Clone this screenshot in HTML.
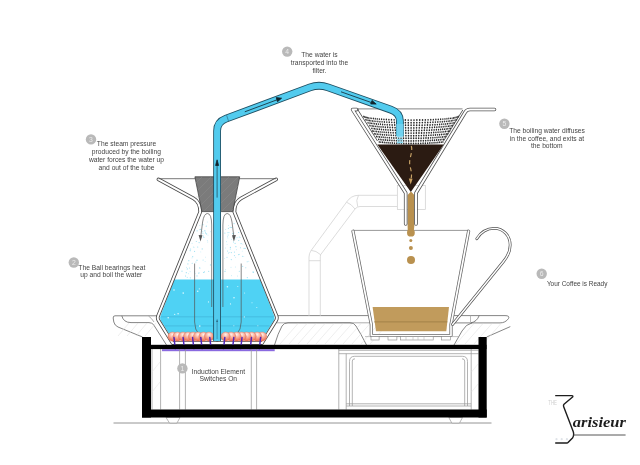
<!DOCTYPE html>
<html><head><meta charset="utf-8">
<style>
html,body{margin:0;padding:0;background:#fff;width:640px;height:465px;overflow:hidden}
svg{display:block;will-change:transform;filter:blur(0.3px)}
.t{font-family:"Liberation Sans",sans-serif;font-size:6.7px;fill:#444}
.n{font-family:"Liberation Sans",sans-serif;font-size:6.8px;fill:#ececec}
</style></head><body>
<svg width="640" height="465" viewBox="0 0 640 465">
<!-- ================= TRAYS ================= -->
<g id="trays" fill="none" stroke="#666" stroke-width="0.8">
  <!-- left tray -->
  <path d="M157 315.8 L115 315.8 Q113 315.8 113.2 318 L113.8 322 Q114.6 325.5 118 327 L142.5 337"/>
  <path d="M121.8 315.8 Q123.5 322.6 131 322.6 L149 322.6 Q152 322.8 153.5 324.6 L166.5 345"/>
  <path d="M148.5 316 Q151.5 318 154 322" stroke="#999"/>
  <!-- middle tray -->
  <line x1="276.5" y1="315.6" x2="370" y2="315.6"/>
  <line x1="276.5" y1="322.8" x2="370" y2="322.8" stroke="#999"/>
  <path d="M274.5 345 Q278 333 282 326 Q284 322.8 288 322.8 L350 322.8 Q354 322.8 356 326 Q361 334 366.5 345"/>
  <!-- column -->
  <!-- right tray -->
  <path d="M452 315.6 L505 315.6 Q510 315.6 508.5 318.5 Q505.5 322.9 500 322.9 L453 322.9"/>
  <path d="M486.7 337 L510.3 326.6"/>
  <path d="M472 322.9 Q466 324 462 331 L454 345"/>
  <path d="M470.5 315.6 L470.5 322.9" stroke="#aaa"/>
  <path d="M479.2 315.6 Q477 321.5 471 322.9"/>
  </g>
<g id="hatch" stroke="#dcdcdc" stroke-width="0.5">
<line x1="118.0" y1="336" x2="129.0" y2="323"/>
<line x1="127.0" y1="336" x2="138.0" y2="323"/>
<line x1="136.0" y1="336" x2="147.0" y2="323"/>
<line x1="145.0" y1="336" x2="156.0" y2="323"/>
<line x1="280" y1="344" x2="298" y2="323.5"/>
<line x1="289" y1="344" x2="307" y2="323.5"/>
<line x1="298" y1="344" x2="316" y2="323.5"/>
<line x1="307" y1="344" x2="325" y2="323.5"/>
<line x1="316" y1="344" x2="334" y2="323.5"/>
<line x1="325" y1="344" x2="343" y2="323.5"/>
<line x1="334" y1="344" x2="352" y2="323.5"/>
<line x1="343" y1="344" x2="361" y2="323.5"/>
<line x1="352" y1="344" x2="370" y2="323.5"/>
<line x1="361" y1="344" x2="379" y2="323.5"/>
<line x1="370" y1="344" x2="388" y2="323.5"/>
<line x1="456" y1="344" x2="474" y2="323.5"/>
<line x1="465" y1="344" x2="483" y2="323.5"/>
<line x1="474" y1="344" x2="492" y2="323.5"/>
<line x1="483" y1="344" x2="501" y2="323.5"/>
</g>
<!-- ================= CUP ================= -->
<g id="cup">
  <!-- coffee -->
  <path d="M372.6 306.9 L449 306.9 L446.3 331.3 L376 331.3 Z" fill="#c19b5c"/>
  <line x1="374" y1="321.9" x2="447.5" y2="321.9" stroke="#8f6f3c" stroke-width="0.6"/>
  <line x1="353" y1="230.4" x2="468.6" y2="230.4" stroke="#999" stroke-width="1"/>
  <g fill="none" stroke-linecap="round" stroke-linejoin="round">
    <path d="M353 231.2 L371.3 324.5 L371.3 335.5 L451 335.5 L451 324.5 L468.6 231.2" stroke="#666" stroke-width="3.2"/>
    <path d="M353 231.2 L371.3 324.5 L371.3 335.5 L451 335.5 L451 324.5 L468.6 231.2" stroke="#fff" stroke-width="1.7"/>
    <path d="M476.8 238.7 C481 232 487 228.4 494.2 228.4 C503.5 228.4 510.2 236 510.2 245 C510.2 251.5 508 256 503.5 261.5 L452.5 324.5" stroke="#555" stroke-width="2.8"/>
    <path d="M476.8 238.7 C481 232 487 228.4 494.2 228.4 C503.5 228.4 510.2 236 510.2 245 C510.2 251.5 508 256 503.5 261.5 L452.5 324.5" stroke="#fff" stroke-width="1.4"/>
  </g>
  <line x1="365" y1="336.6" x2="459" y2="336.6" stroke="#999" stroke-width="0.6"/>
  <g fill="#fff" stroke="#888" stroke-width="0.6">
    <rect x="371" y="336.6" width="8.1" height="3.4"/>
    <rect x="388" y="336.6" width="8.9" height="3.4"/>
    <rect x="400.6" y="336.6" width="32.6" height="3.4"/>
    <rect x="441.4" y="336.6" width="8.9" height="3.4"/>
  </g>
  <g stroke="#aaa" stroke-width="0.5">
    <line x1="406" y1="336.6" x2="406" y2="340"/><line x1="413" y1="336.6" x2="413" y2="340"/>
    <line x1="418" y1="336.6" x2="418" y2="340"/><line x1="424" y1="336.6" x2="424" y2="340"/>
  </g>
</g>
<!-- ================= FILTER ================= -->
<g id="filter">
  <!-- arm (light) -->
  <g fill="none" stroke="#cdcdcd" stroke-width="0.7">
    <path d="M397.3 195.3 L358.5 195.3 Q351 195.3 346.5 202.2 L311.2 250.4 Q309 253.5 309 257 L309 316"/>
    <path d="M397.3 206.5 L360 206.5 Q357 206.5 355 209 L320.6 254.7 Q320.3 256 320.3 258 L320.3 316"/>
    <path d="M358.5 195.3 Q355.5 200 357.7 206.5 M346.5 202.2 Q351.5 204 355 209 M311.2 250.4 Q316 250.5 320.6 254.7 M309 260.7 L320.3 260.7"/>
    <rect x="397.3" y="185.6" width="28" height="24" fill="#fff"/>
  </g>
  <!-- coffee -->
  <path d="M377.3 144.5 L443.8 144.5 L410.8 192 Z" fill="#2b1b12"/>
  <!-- golden stream -->
  <path d="M407.6 195 L411 191.5 L414.3 195 L414.3 226 Q414 230 413.4 233 L408.2 233 Q407.6 230 407.6 226 Z" fill="#b9914f"/>
  <circle cx="410.9" cy="232.7" r="3.9" fill="#b9914f"/>
  <circle cx="410.8" cy="240.5" r="1.5" fill="#b9914f"/>
  <circle cx="410.9" cy="248" r="2" fill="#b9914f"/>
  <circle cx="411" cy="260" r="4" fill="#b9914f"/>
  <!-- dashed arrow -->
  <path d="M411.3 146 C413.2 152 408.6 159 409.8 165 C410.8 170 412.6 174 410.7 180" fill="none" stroke="#c9a468" stroke-width="1.15" stroke-dasharray="4 3.2"/>
  <path d="M408.8 178.5 L410.7 184.5 L412.6 178.7 Z" fill="#c9a060"/>
  <!-- mesh -->
  <g fill="#2a2a2a"><ellipse cx="363.59" cy="116.35" rx="0.31" ry="0.95"/>
<ellipse cx="363.80" cy="116.58" rx="0.34" ry="0.95"/>
<ellipse cx="364.18" cy="116.82" rx="0.37" ry="0.95"/>
<ellipse cx="364.75" cy="117.05" rx="0.40" ry="0.95"/>
<ellipse cx="365.54" cy="119.65" rx="0.40" ry="0.95"/>
<ellipse cx="365.49" cy="117.28" rx="0.43" ry="0.95"/>
<ellipse cx="366.27" cy="119.88" rx="0.43" ry="0.95"/>
<ellipse cx="366.41" cy="117.51" rx="0.46" ry="0.95"/>
<ellipse cx="367.17" cy="120.11" rx="0.46" ry="0.95"/>
<ellipse cx="367.93" cy="122.71" rx="0.46" ry="0.95"/>
<ellipse cx="367.49" cy="117.73" rx="0.49" ry="0.95"/>
<ellipse cx="368.24" cy="120.33" rx="0.49" ry="0.95"/>
<ellipse cx="368.98" cy="122.93" rx="0.49" ry="0.95"/>
<ellipse cx="369.73" cy="125.53" rx="0.49" ry="0.95"/>
<ellipse cx="368.74" cy="117.95" rx="0.52" ry="0.95"/>
<ellipse cx="369.47" cy="120.55" rx="0.52" ry="0.95"/>
<ellipse cx="370.19" cy="123.15" rx="0.52" ry="0.95"/>
<ellipse cx="370.92" cy="125.75" rx="0.52" ry="0.95"/>
<ellipse cx="371.64" cy="128.35" rx="0.52" ry="0.95"/>
<ellipse cx="372.37" cy="130.95" rx="0.52" ry="0.95"/>
<ellipse cx="370.15" cy="118.16" rx="0.54" ry="0.95"/>
<ellipse cx="370.86" cy="120.76" rx="0.54" ry="0.95"/>
<ellipse cx="371.56" cy="123.36" rx="0.54" ry="0.95"/>
<ellipse cx="372.26" cy="125.96" rx="0.54" ry="0.95"/>
<ellipse cx="372.96" cy="128.56" rx="0.54" ry="0.95"/>
<ellipse cx="373.66" cy="131.16" rx="0.54" ry="0.95"/>
<ellipse cx="374.36" cy="133.76" rx="0.54" ry="0.95"/>
<ellipse cx="371.72" cy="118.36" rx="0.57" ry="0.95"/>
<ellipse cx="372.39" cy="120.96" rx="0.57" ry="0.95"/>
<ellipse cx="373.07" cy="123.56" rx="0.57" ry="0.95"/>
<ellipse cx="373.74" cy="126.16" rx="0.57" ry="0.95"/>
<ellipse cx="374.42" cy="128.76" rx="0.57" ry="0.95"/>
<ellipse cx="375.10" cy="131.36" rx="0.57" ry="0.95"/>
<ellipse cx="375.77" cy="133.96" rx="0.57" ry="0.95"/>
<ellipse cx="376.45" cy="136.56" rx="0.57" ry="0.95"/>
<ellipse cx="373.43" cy="118.56" rx="0.60" ry="0.95"/>
<ellipse cx="374.07" cy="121.16" rx="0.60" ry="0.95"/>
<ellipse cx="374.72" cy="123.76" rx="0.60" ry="0.95"/>
<ellipse cx="375.37" cy="126.36" rx="0.60" ry="0.95"/>
<ellipse cx="376.02" cy="128.96" rx="0.60" ry="0.95"/>
<ellipse cx="376.66" cy="131.56" rx="0.60" ry="0.95"/>
<ellipse cx="377.31" cy="134.16" rx="0.60" ry="0.95"/>
<ellipse cx="377.96" cy="136.76" rx="0.60" ry="0.95"/>
<ellipse cx="378.60" cy="139.36" rx="0.60" ry="0.95"/>
<ellipse cx="379.25" cy="141.96" rx="0.60" ry="0.95"/>
<ellipse cx="375.28" cy="118.74" rx="0.62" ry="0.95"/>
<ellipse cx="375.89" cy="121.34" rx="0.62" ry="0.95"/>
<ellipse cx="376.51" cy="123.94" rx="0.62" ry="0.95"/>
<ellipse cx="377.12" cy="126.54" rx="0.62" ry="0.95"/>
<ellipse cx="377.74" cy="129.14" rx="0.62" ry="0.95"/>
<ellipse cx="378.36" cy="131.74" rx="0.62" ry="0.95"/>
<ellipse cx="378.97" cy="134.34" rx="0.62" ry="0.95"/>
<ellipse cx="379.59" cy="136.94" rx="0.62" ry="0.95"/>
<ellipse cx="380.20" cy="139.54" rx="0.62" ry="0.95"/>
<ellipse cx="380.82" cy="142.14" rx="0.62" ry="0.95"/>
<ellipse cx="377.26" cy="118.92" rx="0.64" ry="0.95"/>
<ellipse cx="377.84" cy="121.52" rx="0.64" ry="0.95"/>
<ellipse cx="378.42" cy="124.12" rx="0.64" ry="0.95"/>
<ellipse cx="379.01" cy="126.72" rx="0.64" ry="0.95"/>
<ellipse cx="379.59" cy="129.32" rx="0.64" ry="0.95"/>
<ellipse cx="380.17" cy="131.92" rx="0.64" ry="0.95"/>
<ellipse cx="380.75" cy="134.52" rx="0.64" ry="0.95"/>
<ellipse cx="381.34" cy="137.12" rx="0.64" ry="0.95"/>
<ellipse cx="381.92" cy="139.72" rx="0.64" ry="0.95"/>
<ellipse cx="382.50" cy="142.32" rx="0.64" ry="0.95"/>
<ellipse cx="379.37" cy="119.09" rx="0.67" ry="0.95"/>
<ellipse cx="379.91" cy="121.69" rx="0.67" ry="0.95"/>
<ellipse cx="380.46" cy="124.29" rx="0.67" ry="0.95"/>
<ellipse cx="381.00" cy="126.89" rx="0.67" ry="0.95"/>
<ellipse cx="381.55" cy="129.49" rx="0.67" ry="0.95"/>
<ellipse cx="382.10" cy="132.09" rx="0.67" ry="0.95"/>
<ellipse cx="382.64" cy="134.69" rx="0.67" ry="0.95"/>
<ellipse cx="383.19" cy="137.29" rx="0.67" ry="0.95"/>
<ellipse cx="383.74" cy="139.89" rx="0.67" ry="0.95"/>
<ellipse cx="384.28" cy="142.49" rx="0.67" ry="0.95"/>
<ellipse cx="381.59" cy="119.24" rx="0.69" ry="0.95"/>
<ellipse cx="382.10" cy="121.84" rx="0.69" ry="0.95"/>
<ellipse cx="382.61" cy="124.44" rx="0.69" ry="0.95"/>
<ellipse cx="383.11" cy="127.04" rx="0.69" ry="0.95"/>
<ellipse cx="383.62" cy="129.64" rx="0.69" ry="0.95"/>
<ellipse cx="384.13" cy="132.24" rx="0.69" ry="0.95"/>
<ellipse cx="384.64" cy="134.84" rx="0.69" ry="0.95"/>
<ellipse cx="385.15" cy="137.44" rx="0.69" ry="0.95"/>
<ellipse cx="385.66" cy="140.04" rx="0.69" ry="0.95"/>
<ellipse cx="386.17" cy="142.64" rx="0.69" ry="0.95"/>
<ellipse cx="383.92" cy="119.39" rx="0.71" ry="0.95"/>
<ellipse cx="384.39" cy="121.99" rx="0.71" ry="0.95"/>
<ellipse cx="384.86" cy="124.59" rx="0.71" ry="0.95"/>
<ellipse cx="385.33" cy="127.19" rx="0.71" ry="0.95"/>
<ellipse cx="385.79" cy="129.79" rx="0.71" ry="0.95"/>
<ellipse cx="386.26" cy="132.39" rx="0.71" ry="0.95"/>
<ellipse cx="386.73" cy="134.99" rx="0.71" ry="0.95"/>
<ellipse cx="387.20" cy="137.59" rx="0.71" ry="0.95"/>
<ellipse cx="387.67" cy="140.19" rx="0.71" ry="0.95"/>
<ellipse cx="388.14" cy="142.79" rx="0.71" ry="0.95"/>
<ellipse cx="386.35" cy="119.52" rx="0.72" ry="0.95"/>
<ellipse cx="386.78" cy="122.12" rx="0.72" ry="0.95"/>
<ellipse cx="387.20" cy="124.72" rx="0.72" ry="0.95"/>
<ellipse cx="387.63" cy="127.32" rx="0.72" ry="0.95"/>
<ellipse cx="388.06" cy="129.92" rx="0.72" ry="0.95"/>
<ellipse cx="388.48" cy="132.52" rx="0.72" ry="0.95"/>
<ellipse cx="388.91" cy="135.12" rx="0.72" ry="0.95"/>
<ellipse cx="389.34" cy="137.72" rx="0.72" ry="0.95"/>
<ellipse cx="389.76" cy="140.32" rx="0.72" ry="0.95"/>
<ellipse cx="390.19" cy="142.92" rx="0.72" ry="0.95"/>
<ellipse cx="388.87" cy="119.64" rx="0.74" ry="0.95"/>
<ellipse cx="389.25" cy="122.24" rx="0.74" ry="0.95"/>
<ellipse cx="389.64" cy="124.84" rx="0.74" ry="0.95"/>
<ellipse cx="390.02" cy="127.44" rx="0.74" ry="0.95"/>
<ellipse cx="390.40" cy="130.04" rx="0.74" ry="0.95"/>
<ellipse cx="390.79" cy="132.64" rx="0.74" ry="0.95"/>
<ellipse cx="391.17" cy="135.24" rx="0.74" ry="0.95"/>
<ellipse cx="391.55" cy="137.84" rx="0.74" ry="0.95"/>
<ellipse cx="391.94" cy="140.44" rx="0.74" ry="0.95"/>
<ellipse cx="392.32" cy="143.04" rx="0.74" ry="0.95"/>
<ellipse cx="391.47" cy="119.74" rx="0.75" ry="0.95"/>
<ellipse cx="391.81" cy="122.34" rx="0.75" ry="0.95"/>
<ellipse cx="392.15" cy="124.94" rx="0.75" ry="0.95"/>
<ellipse cx="392.49" cy="127.54" rx="0.75" ry="0.95"/>
<ellipse cx="392.82" cy="130.14" rx="0.75" ry="0.95"/>
<ellipse cx="393.16" cy="132.74" rx="0.75" ry="0.95"/>
<ellipse cx="393.50" cy="135.34" rx="0.75" ry="0.95"/>
<ellipse cx="393.84" cy="137.94" rx="0.75" ry="0.95"/>
<ellipse cx="394.18" cy="140.54" rx="0.75" ry="0.95"/>
<ellipse cx="394.51" cy="143.14" rx="0.75" ry="0.95"/>
<ellipse cx="394.14" cy="119.84" rx="0.77" ry="0.95"/>
<ellipse cx="394.44" cy="122.44" rx="0.77" ry="0.95"/>
<ellipse cx="394.73" cy="125.04" rx="0.77" ry="0.95"/>
<ellipse cx="395.02" cy="127.64" rx="0.77" ry="0.95"/>
<ellipse cx="395.31" cy="130.24" rx="0.77" ry="0.95"/>
<ellipse cx="395.60" cy="132.84" rx="0.77" ry="0.95"/>
<ellipse cx="395.89" cy="135.44" rx="0.77" ry="0.95"/>
<ellipse cx="396.19" cy="138.04" rx="0.77" ry="0.95"/>
<ellipse cx="396.48" cy="140.64" rx="0.77" ry="0.95"/>
<ellipse cx="396.77" cy="143.24" rx="0.77" ry="0.95"/>
<ellipse cx="396.88" cy="119.92" rx="0.78" ry="0.95"/>
<ellipse cx="397.12" cy="122.52" rx="0.78" ry="0.95"/>
<ellipse cx="397.37" cy="125.12" rx="0.78" ry="0.95"/>
<ellipse cx="397.61" cy="127.72" rx="0.78" ry="0.95"/>
<ellipse cx="397.85" cy="130.32" rx="0.78" ry="0.95"/>
<ellipse cx="398.10" cy="132.92" rx="0.78" ry="0.95"/>
<ellipse cx="398.34" cy="135.52" rx="0.78" ry="0.95"/>
<ellipse cx="398.59" cy="138.12" rx="0.78" ry="0.95"/>
<ellipse cx="398.83" cy="140.72" rx="0.78" ry="0.95"/>
<ellipse cx="399.08" cy="143.32" rx="0.78" ry="0.95"/>
<ellipse cx="399.66" cy="119.98" rx="0.78" ry="0.95"/>
<ellipse cx="399.86" cy="122.58" rx="0.78" ry="0.95"/>
<ellipse cx="400.05" cy="125.18" rx="0.78" ry="0.95"/>
<ellipse cx="400.25" cy="127.78" rx="0.78" ry="0.95"/>
<ellipse cx="400.44" cy="130.38" rx="0.78" ry="0.95"/>
<ellipse cx="400.64" cy="132.98" rx="0.78" ry="0.95"/>
<ellipse cx="400.84" cy="135.58" rx="0.78" ry="0.95"/>
<ellipse cx="401.03" cy="138.18" rx="0.78" ry="0.95"/>
<ellipse cx="401.23" cy="140.78" rx="0.78" ry="0.95"/>
<ellipse cx="401.42" cy="143.38" rx="0.78" ry="0.95"/>
<ellipse cx="402.49" cy="120.03" rx="0.79" ry="0.95"/>
<ellipse cx="402.63" cy="122.63" rx="0.79" ry="0.95"/>
<ellipse cx="402.78" cy="125.23" rx="0.79" ry="0.95"/>
<ellipse cx="402.93" cy="127.83" rx="0.79" ry="0.95"/>
<ellipse cx="403.07" cy="130.43" rx="0.79" ry="0.95"/>
<ellipse cx="403.22" cy="133.03" rx="0.79" ry="0.95"/>
<ellipse cx="403.37" cy="135.63" rx="0.79" ry="0.95"/>
<ellipse cx="403.51" cy="138.23" rx="0.79" ry="0.95"/>
<ellipse cx="403.66" cy="140.83" rx="0.79" ry="0.95"/>
<ellipse cx="403.81" cy="143.43" rx="0.79" ry="0.95"/>
<ellipse cx="405.34" cy="120.07" rx="0.80" ry="0.95"/>
<ellipse cx="405.44" cy="122.67" rx="0.80" ry="0.95"/>
<ellipse cx="405.54" cy="125.27" rx="0.80" ry="0.95"/>
<ellipse cx="405.63" cy="127.87" rx="0.80" ry="0.95"/>
<ellipse cx="405.73" cy="130.47" rx="0.80" ry="0.95"/>
<ellipse cx="405.83" cy="133.07" rx="0.80" ry="0.95"/>
<ellipse cx="405.92" cy="135.67" rx="0.80" ry="0.95"/>
<ellipse cx="406.02" cy="138.27" rx="0.80" ry="0.95"/>
<ellipse cx="406.12" cy="140.87" rx="0.80" ry="0.95"/>
<ellipse cx="406.21" cy="143.47" rx="0.80" ry="0.95"/>
<ellipse cx="408.22" cy="120.09" rx="0.80" ry="0.95"/>
<ellipse cx="408.27" cy="122.69" rx="0.80" ry="0.95"/>
<ellipse cx="408.31" cy="125.29" rx="0.80" ry="0.95"/>
<ellipse cx="408.36" cy="127.89" rx="0.80" ry="0.95"/>
<ellipse cx="408.41" cy="130.49" rx="0.80" ry="0.95"/>
<ellipse cx="408.45" cy="133.09" rx="0.80" ry="0.95"/>
<ellipse cx="408.50" cy="135.69" rx="0.80" ry="0.95"/>
<ellipse cx="408.55" cy="138.29" rx="0.80" ry="0.95"/>
<ellipse cx="408.59" cy="140.89" rx="0.80" ry="0.95"/>
<ellipse cx="408.64" cy="143.49" rx="0.80" ry="0.95"/>
<ellipse cx="411.11" cy="120.10" rx="0.80" ry="0.95"/>
<ellipse cx="411.11" cy="122.70" rx="0.80" ry="0.95"/>
<ellipse cx="411.10" cy="125.30" rx="0.80" ry="0.95"/>
<ellipse cx="411.10" cy="127.90" rx="0.80" ry="0.95"/>
<ellipse cx="411.09" cy="130.50" rx="0.80" ry="0.95"/>
<ellipse cx="411.09" cy="133.10" rx="0.80" ry="0.95"/>
<ellipse cx="411.09" cy="135.70" rx="0.80" ry="0.95"/>
<ellipse cx="411.08" cy="138.30" rx="0.80" ry="0.95"/>
<ellipse cx="411.08" cy="140.90" rx="0.80" ry="0.95"/>
<ellipse cx="411.07" cy="143.50" rx="0.80" ry="0.95"/>
<ellipse cx="414.00" cy="120.09" rx="0.80" ry="0.95"/>
<ellipse cx="413.94" cy="122.69" rx="0.80" ry="0.95"/>
<ellipse cx="413.89" cy="125.29" rx="0.80" ry="0.95"/>
<ellipse cx="413.83" cy="127.89" rx="0.80" ry="0.95"/>
<ellipse cx="413.78" cy="130.49" rx="0.80" ry="0.95"/>
<ellipse cx="413.73" cy="133.09" rx="0.80" ry="0.95"/>
<ellipse cx="413.67" cy="135.69" rx="0.80" ry="0.95"/>
<ellipse cx="413.62" cy="138.29" rx="0.80" ry="0.95"/>
<ellipse cx="413.56" cy="140.89" rx="0.80" ry="0.95"/>
<ellipse cx="413.51" cy="143.49" rx="0.80" ry="0.95"/>
<ellipse cx="416.87" cy="120.07" rx="0.80" ry="0.95"/>
<ellipse cx="416.77" cy="122.67" rx="0.80" ry="0.95"/>
<ellipse cx="416.67" cy="125.27" rx="0.80" ry="0.95"/>
<ellipse cx="416.56" cy="127.87" rx="0.80" ry="0.95"/>
<ellipse cx="416.46" cy="130.47" rx="0.80" ry="0.95"/>
<ellipse cx="416.35" cy="133.07" rx="0.80" ry="0.95"/>
<ellipse cx="416.25" cy="135.67" rx="0.80" ry="0.95"/>
<ellipse cx="416.14" cy="138.27" rx="0.80" ry="0.95"/>
<ellipse cx="416.04" cy="140.87" rx="0.80" ry="0.95"/>
<ellipse cx="415.93" cy="143.47" rx="0.80" ry="0.95"/>
<ellipse cx="419.73" cy="120.03" rx="0.79" ry="0.95"/>
<ellipse cx="419.58" cy="122.63" rx="0.79" ry="0.95"/>
<ellipse cx="419.42" cy="125.23" rx="0.79" ry="0.95"/>
<ellipse cx="419.27" cy="127.83" rx="0.79" ry="0.95"/>
<ellipse cx="419.11" cy="130.43" rx="0.79" ry="0.95"/>
<ellipse cx="418.96" cy="133.03" rx="0.79" ry="0.95"/>
<ellipse cx="418.80" cy="135.63" rx="0.79" ry="0.95"/>
<ellipse cx="418.65" cy="138.23" rx="0.79" ry="0.95"/>
<ellipse cx="418.50" cy="140.83" rx="0.79" ry="0.95"/>
<ellipse cx="418.34" cy="143.43" rx="0.79" ry="0.95"/>
<ellipse cx="422.56" cy="119.98" rx="0.78" ry="0.95"/>
<ellipse cx="422.35" cy="122.58" rx="0.78" ry="0.95"/>
<ellipse cx="422.15" cy="125.18" rx="0.78" ry="0.95"/>
<ellipse cx="421.95" cy="127.78" rx="0.78" ry="0.95"/>
<ellipse cx="421.74" cy="130.38" rx="0.78" ry="0.95"/>
<ellipse cx="421.54" cy="132.98" rx="0.78" ry="0.95"/>
<ellipse cx="421.34" cy="135.58" rx="0.78" ry="0.95"/>
<ellipse cx="421.13" cy="138.18" rx="0.78" ry="0.95"/>
<ellipse cx="420.93" cy="140.78" rx="0.78" ry="0.95"/>
<ellipse cx="420.72" cy="143.38" rx="0.78" ry="0.95"/>
<ellipse cx="425.34" cy="119.92" rx="0.78" ry="0.95"/>
<ellipse cx="425.09" cy="122.52" rx="0.78" ry="0.95"/>
<ellipse cx="424.84" cy="125.12" rx="0.78" ry="0.95"/>
<ellipse cx="424.59" cy="127.72" rx="0.78" ry="0.95"/>
<ellipse cx="424.33" cy="130.32" rx="0.78" ry="0.95"/>
<ellipse cx="424.08" cy="132.92" rx="0.78" ry="0.95"/>
<ellipse cx="423.83" cy="135.52" rx="0.78" ry="0.95"/>
<ellipse cx="423.58" cy="138.12" rx="0.78" ry="0.95"/>
<ellipse cx="423.33" cy="140.72" rx="0.78" ry="0.95"/>
<ellipse cx="423.07" cy="143.32" rx="0.78" ry="0.95"/>
<ellipse cx="428.08" cy="119.84" rx="0.77" ry="0.95"/>
<ellipse cx="427.78" cy="122.44" rx="0.77" ry="0.95"/>
<ellipse cx="427.48" cy="125.04" rx="0.77" ry="0.95"/>
<ellipse cx="427.18" cy="127.64" rx="0.77" ry="0.95"/>
<ellipse cx="426.88" cy="130.24" rx="0.77" ry="0.95"/>
<ellipse cx="426.58" cy="132.84" rx="0.77" ry="0.95"/>
<ellipse cx="426.28" cy="135.44" rx="0.77" ry="0.95"/>
<ellipse cx="425.98" cy="138.04" rx="0.77" ry="0.95"/>
<ellipse cx="425.68" cy="140.64" rx="0.77" ry="0.95"/>
<ellipse cx="425.38" cy="143.24" rx="0.77" ry="0.95"/>
<ellipse cx="430.75" cy="119.74" rx="0.75" ry="0.95"/>
<ellipse cx="430.40" cy="122.34" rx="0.75" ry="0.95"/>
<ellipse cx="430.06" cy="124.94" rx="0.75" ry="0.95"/>
<ellipse cx="429.71" cy="127.54" rx="0.75" ry="0.95"/>
<ellipse cx="429.36" cy="130.14" rx="0.75" ry="0.95"/>
<ellipse cx="429.02" cy="132.74" rx="0.75" ry="0.95"/>
<ellipse cx="428.67" cy="135.34" rx="0.75" ry="0.95"/>
<ellipse cx="428.33" cy="137.94" rx="0.75" ry="0.95"/>
<ellipse cx="427.98" cy="140.54" rx="0.75" ry="0.95"/>
<ellipse cx="427.63" cy="143.14" rx="0.75" ry="0.95"/>
<ellipse cx="433.35" cy="119.64" rx="0.74" ry="0.95"/>
<ellipse cx="432.96" cy="122.24" rx="0.74" ry="0.95"/>
<ellipse cx="432.57" cy="124.84" rx="0.74" ry="0.95"/>
<ellipse cx="432.18" cy="127.44" rx="0.74" ry="0.95"/>
<ellipse cx="431.78" cy="130.04" rx="0.74" ry="0.95"/>
<ellipse cx="431.39" cy="132.64" rx="0.74" ry="0.95"/>
<ellipse cx="431.00" cy="135.24" rx="0.74" ry="0.95"/>
<ellipse cx="430.61" cy="137.84" rx="0.74" ry="0.95"/>
<ellipse cx="430.22" cy="140.44" rx="0.74" ry="0.95"/>
<ellipse cx="429.83" cy="143.04" rx="0.74" ry="0.95"/>
<ellipse cx="435.87" cy="119.52" rx="0.72" ry="0.95"/>
<ellipse cx="435.43" cy="122.12" rx="0.72" ry="0.95"/>
<ellipse cx="435.00" cy="124.72" rx="0.72" ry="0.95"/>
<ellipse cx="434.57" cy="127.32" rx="0.72" ry="0.95"/>
<ellipse cx="434.13" cy="129.92" rx="0.72" ry="0.95"/>
<ellipse cx="433.70" cy="132.52" rx="0.72" ry="0.95"/>
<ellipse cx="433.26" cy="135.12" rx="0.72" ry="0.95"/>
<ellipse cx="432.83" cy="137.72" rx="0.72" ry="0.95"/>
<ellipse cx="432.39" cy="140.32" rx="0.72" ry="0.95"/>
<ellipse cx="431.96" cy="142.92" rx="0.72" ry="0.95"/>
<ellipse cx="438.30" cy="119.39" rx="0.71" ry="0.95"/>
<ellipse cx="437.82" cy="121.99" rx="0.71" ry="0.95"/>
<ellipse cx="437.35" cy="124.59" rx="0.71" ry="0.95"/>
<ellipse cx="436.87" cy="127.19" rx="0.71" ry="0.95"/>
<ellipse cx="436.39" cy="129.79" rx="0.71" ry="0.95"/>
<ellipse cx="435.92" cy="132.39" rx="0.71" ry="0.95"/>
<ellipse cx="435.44" cy="134.99" rx="0.71" ry="0.95"/>
<ellipse cx="434.97" cy="137.59" rx="0.71" ry="0.95"/>
<ellipse cx="434.49" cy="140.19" rx="0.71" ry="0.95"/>
<ellipse cx="434.01" cy="142.79" rx="0.71" ry="0.95"/>
<ellipse cx="440.63" cy="119.24" rx="0.69" ry="0.95"/>
<ellipse cx="440.12" cy="121.84" rx="0.69" ry="0.95"/>
<ellipse cx="439.60" cy="124.44" rx="0.69" ry="0.95"/>
<ellipse cx="439.08" cy="127.04" rx="0.69" ry="0.95"/>
<ellipse cx="438.57" cy="129.64" rx="0.69" ry="0.95"/>
<ellipse cx="438.05" cy="132.24" rx="0.69" ry="0.95"/>
<ellipse cx="437.53" cy="134.84" rx="0.69" ry="0.95"/>
<ellipse cx="437.02" cy="137.44" rx="0.69" ry="0.95"/>
<ellipse cx="436.50" cy="140.04" rx="0.69" ry="0.95"/>
<ellipse cx="435.98" cy="142.64" rx="0.69" ry="0.95"/>
<ellipse cx="442.86" cy="119.09" rx="0.67" ry="0.95"/>
<ellipse cx="442.30" cy="121.69" rx="0.67" ry="0.95"/>
<ellipse cx="441.75" cy="124.29" rx="0.67" ry="0.95"/>
<ellipse cx="441.19" cy="126.89" rx="0.67" ry="0.95"/>
<ellipse cx="440.64" cy="129.49" rx="0.67" ry="0.95"/>
<ellipse cx="440.08" cy="132.09" rx="0.67" ry="0.95"/>
<ellipse cx="439.53" cy="134.69" rx="0.67" ry="0.95"/>
<ellipse cx="438.98" cy="137.29" rx="0.67" ry="0.95"/>
<ellipse cx="438.42" cy="139.89" rx="0.67" ry="0.95"/>
<ellipse cx="437.87" cy="142.49" rx="0.67" ry="0.95"/>
<ellipse cx="444.96" cy="118.92" rx="0.64" ry="0.95"/>
<ellipse cx="444.37" cy="121.52" rx="0.64" ry="0.95"/>
<ellipse cx="443.78" cy="124.12" rx="0.64" ry="0.95"/>
<ellipse cx="443.19" cy="126.72" rx="0.64" ry="0.95"/>
<ellipse cx="442.60" cy="129.32" rx="0.64" ry="0.95"/>
<ellipse cx="442.01" cy="131.92" rx="0.64" ry="0.95"/>
<ellipse cx="441.42" cy="134.52" rx="0.64" ry="0.95"/>
<ellipse cx="440.83" cy="137.12" rx="0.64" ry="0.95"/>
<ellipse cx="440.24" cy="139.72" rx="0.64" ry="0.95"/>
<ellipse cx="439.65" cy="142.32" rx="0.64" ry="0.95"/>
<ellipse cx="446.95" cy="118.74" rx="0.62" ry="0.95"/>
<ellipse cx="446.32" cy="121.34" rx="0.62" ry="0.95"/>
<ellipse cx="445.70" cy="123.94" rx="0.62" ry="0.95"/>
<ellipse cx="445.07" cy="126.54" rx="0.62" ry="0.95"/>
<ellipse cx="444.45" cy="129.14" rx="0.62" ry="0.95"/>
<ellipse cx="443.83" cy="131.74" rx="0.62" ry="0.95"/>
<ellipse cx="443.20" cy="134.34" rx="0.62" ry="0.95"/>
<ellipse cx="442.58" cy="136.94" rx="0.62" ry="0.95"/>
<ellipse cx="441.96" cy="139.54" rx="0.62" ry="0.95"/>
<ellipse cx="441.33" cy="142.14" rx="0.62" ry="0.95"/>
<ellipse cx="448.80" cy="118.56" rx="0.60" ry="0.95"/>
<ellipse cx="448.14" cy="121.16" rx="0.60" ry="0.95"/>
<ellipse cx="447.49" cy="123.76" rx="0.60" ry="0.95"/>
<ellipse cx="446.83" cy="126.36" rx="0.60" ry="0.95"/>
<ellipse cx="446.18" cy="128.96" rx="0.60" ry="0.95"/>
<ellipse cx="445.52" cy="131.56" rx="0.60" ry="0.95"/>
<ellipse cx="444.87" cy="134.16" rx="0.60" ry="0.95"/>
<ellipse cx="444.21" cy="136.76" rx="0.60" ry="0.95"/>
<ellipse cx="443.56" cy="139.36" rx="0.60" ry="0.95"/>
<ellipse cx="442.90" cy="141.96" rx="0.60" ry="0.95"/>
<ellipse cx="450.51" cy="118.36" rx="0.57" ry="0.95"/>
<ellipse cx="449.82" cy="120.96" rx="0.57" ry="0.95"/>
<ellipse cx="449.14" cy="123.56" rx="0.57" ry="0.95"/>
<ellipse cx="448.46" cy="126.16" rx="0.57" ry="0.95"/>
<ellipse cx="447.77" cy="128.76" rx="0.57" ry="0.95"/>
<ellipse cx="447.09" cy="131.36" rx="0.57" ry="0.95"/>
<ellipse cx="446.40" cy="133.96" rx="0.57" ry="0.95"/>
<ellipse cx="445.72" cy="136.56" rx="0.57" ry="0.95"/>
<ellipse cx="452.07" cy="118.16" rx="0.54" ry="0.95"/>
<ellipse cx="451.36" cy="120.76" rx="0.54" ry="0.95"/>
<ellipse cx="450.65" cy="123.36" rx="0.54" ry="0.95"/>
<ellipse cx="449.94" cy="125.96" rx="0.54" ry="0.95"/>
<ellipse cx="449.23" cy="128.56" rx="0.54" ry="0.95"/>
<ellipse cx="448.52" cy="131.16" rx="0.54" ry="0.95"/>
<ellipse cx="447.81" cy="133.76" rx="0.54" ry="0.95"/>
<ellipse cx="453.48" cy="117.95" rx="0.52" ry="0.95"/>
<ellipse cx="452.75" cy="120.55" rx="0.52" ry="0.95"/>
<ellipse cx="452.02" cy="123.15" rx="0.52" ry="0.95"/>
<ellipse cx="451.28" cy="125.75" rx="0.52" ry="0.95"/>
<ellipse cx="450.55" cy="128.35" rx="0.52" ry="0.95"/>
<ellipse cx="449.82" cy="130.95" rx="0.52" ry="0.95"/>
<ellipse cx="454.73" cy="117.73" rx="0.49" ry="0.95"/>
<ellipse cx="453.98" cy="120.33" rx="0.49" ry="0.95"/>
<ellipse cx="453.23" cy="122.93" rx="0.49" ry="0.95"/>
<ellipse cx="452.47" cy="125.53" rx="0.49" ry="0.95"/>
<ellipse cx="455.82" cy="117.51" rx="0.46" ry="0.95"/>
<ellipse cx="455.05" cy="120.11" rx="0.46" ry="0.95"/>
<ellipse cx="454.28" cy="122.71" rx="0.46" ry="0.95"/>
<ellipse cx="456.74" cy="117.28" rx="0.43" ry="0.95"/>
<ellipse cx="455.95" cy="119.88" rx="0.43" ry="0.95"/>
<ellipse cx="457.48" cy="117.05" rx="0.40" ry="0.95"/>
<ellipse cx="456.68" cy="119.65" rx="0.40" ry="0.95"/>
<ellipse cx="458.05" cy="116.82" rx="0.37" ry="0.95"/>
<ellipse cx="458.43" cy="116.58" rx="0.34" ry="0.95"/>
<ellipse cx="458.64" cy="116.35" rx="0.31" ry="0.95"/></g>
  <!-- funnel walls -->
  <line x1="356" y1="108.9" x2="462.5" y2="108.9" stroke="#777" stroke-width="0.9"/>
  <g fill="none" stroke-linecap="round" stroke-linejoin="round">
    <path d="M356.8 109.6 L352.6 109.6 L405.7 193 L405.7 224" stroke="#555" stroke-width="3.6"/>
    <path d="M494.5 109.55 L470 109.55 Q466.8 109.55 465.2 112.2 L416 193 L416 224" stroke="#555" stroke-width="3.6"/>
    <path d="M356.8 109.6 L352.6 109.6 L405.7 193 L405.7 224" stroke="#fff" stroke-width="2"/>
    <path d="M494.5 109.55 L470 109.55 Q466.8 109.55 465.2 112.2 L416 193 L416 224" stroke="#fff" stroke-width="2"/>
  </g>
  <line x1="357.3" y1="108.9" x2="377.5" y2="141" stroke="#333" stroke-width="0.8"/>
  <line x1="462.8" y1="110" x2="443.5" y2="141" stroke="#333" stroke-width="0.8"/>
  
</g>
<!-- ================= FLASK ================= -->
<g id="flask">
  <!-- water -->
  <path d="M174.4 279.4 L160.6 315.5 Q159.4 318.3 161 321 L172.8 339.8 L261.8 339.8 L273.6 321 Q275.2 318.3 274 315.5 L260.2 279.4 Z" fill="#4fd2f4"/>
  <line x1="161" y1="316.8" x2="273.6" y2="316.8" stroke="#3aa9cf" stroke-width="0.5"/>
  <line x1="165" y1="325.9" x2="269.6" y2="325.9" stroke="#3aa9cf" stroke-width="0.5"/>
  <g fill="#9ee0f2"><circle cx="235.7" cy="257.3" r="0.45"/>
<circle cx="197.7" cy="247.0" r="0.60"/>
<circle cx="231.0" cy="267.3" r="0.45"/>
<circle cx="230.4" cy="247.4" r="0.60"/>
<circle cx="197.1" cy="230.8" r="0.60"/>
<circle cx="199.9" cy="225.5" r="0.45"/>
<circle cx="234.4" cy="255.6" r="0.55"/>
<circle cx="235.9" cy="246.7" r="0.60"/>
<circle cx="208.0" cy="235.1" r="0.45"/>
<circle cx="240.7" cy="237.6" r="0.45"/>
<circle cx="205.1" cy="261.6" r="0.45"/>
<circle cx="190.2" cy="250.7" r="0.60"/>
<circle cx="210.4" cy="264.9" r="0.55"/>
<circle cx="241.1" cy="243.6" r="0.60"/>
<circle cx="207.2" cy="222.0" r="0.45"/>
<circle cx="244.0" cy="248.3" r="0.55"/>
<circle cx="224.9" cy="233.1" r="0.55"/>
<circle cx="237.4" cy="276.0" r="0.45"/>
<circle cx="225.7" cy="229.5" r="0.45"/>
<circle cx="228.4" cy="225.4" r="0.45"/>
<circle cx="197.0" cy="260.2" r="0.60"/>
<circle cx="227.3" cy="232.7" r="0.45"/>
<circle cx="242.9" cy="244.1" r="0.45"/>
<circle cx="239.3" cy="237.1" r="0.60"/>
<circle cx="235.9" cy="239.0" r="0.45"/>
<circle cx="238.6" cy="232.5" r="0.60"/>
<circle cx="192.0" cy="257.9" r="0.45"/>
<circle cx="206.6" cy="233.9" r="0.60"/>
<circle cx="207.3" cy="240.4" r="0.45"/>
<circle cx="206.3" cy="226.2" r="0.60"/>
<circle cx="239.4" cy="254.2" r="0.45"/>
<circle cx="205.4" cy="257.1" r="0.45"/>
<circle cx="199.5" cy="267.8" r="0.45"/>
<circle cx="228.4" cy="253.0" r="0.55"/>
<circle cx="225.0" cy="271.4" r="0.55"/>
<circle cx="202.9" cy="224.7" r="0.60"/>
<circle cx="197.0" cy="275.9" r="0.60"/>
<circle cx="242.2" cy="251.1" r="0.45"/>
<circle cx="224.7" cy="258.6" r="0.45"/>
<circle cx="237.0" cy="237.7" r="0.45"/>
<circle cx="187.9" cy="263.9" r="0.55"/>
<circle cx="193.3" cy="247.0" r="0.45"/>
<circle cx="185.4" cy="276.5" r="0.45"/>
<circle cx="253.1" cy="271.9" r="0.60"/>
<circle cx="207.8" cy="242.0" r="0.45"/>
<circle cx="230.3" cy="249.0" r="0.55"/>
<circle cx="199.9" cy="229.6" r="0.55"/>
<circle cx="231.3" cy="252.6" r="0.60"/>
<circle cx="192.2" cy="263.3" r="0.55"/>
<circle cx="226.6" cy="241.7" r="0.45"/>
<circle cx="242.7" cy="266.3" r="0.60"/>
<circle cx="192.1" cy="243.2" r="0.45"/>
<circle cx="247.3" cy="277.6" r="0.60"/>
<circle cx="238.7" cy="240.5" r="0.60"/>
<circle cx="187.3" cy="268.9" r="0.60"/>
<circle cx="202.2" cy="248.9" r="0.60"/>
<circle cx="228.4" cy="228.3" r="0.60"/>
<circle cx="198.8" cy="273.5" r="0.45"/>
<circle cx="199.1" cy="242.6" r="0.60"/>
<circle cx="202.9" cy="233.3" r="0.55"/>
<circle cx="204.4" cy="271.9" r="0.60"/>
<circle cx="235.3" cy="267.0" r="0.45"/>
<circle cx="208.7" cy="271.3" r="0.60"/>
<circle cx="195.3" cy="273.6" r="0.45"/>
<circle cx="236.5" cy="249.8" r="0.45"/>
<circle cx="247.2" cy="261.8" r="0.55"/>
<circle cx="189.6" cy="268.0" r="0.55"/>
<circle cx="203.9" cy="237.4" r="0.55"/>
<circle cx="231.3" cy="259.6" r="0.60"/>
<circle cx="194.0" cy="247.3" r="0.45"/>
<circle cx="203.1" cy="260.0" r="0.55"/>
<circle cx="231.4" cy="239.3" r="0.45"/>
<circle cx="228.9" cy="232.6" r="0.55"/>
<circle cx="201.1" cy="235.3" r="0.45"/>
<circle cx="187.0" cy="277.1" r="0.45"/>
<circle cx="227.0" cy="257.3" r="0.55"/>
<circle cx="231.6" cy="275.7" r="0.45"/>
<circle cx="199.9" cy="268.1" r="0.60"/>
<circle cx="195.9" cy="262.0" r="0.55"/>
<circle cx="190.3" cy="277.8" r="0.60"/>
<circle cx="186.3" cy="272.7" r="0.60"/>
<circle cx="234.1" cy="233.0" r="0.45"/>
<circle cx="239.3" cy="271.2" r="0.55"/>
<circle cx="225.7" cy="248.0" r="0.45"/>
<circle cx="231.6" cy="227.5" r="0.60"/>
<circle cx="188.7" cy="273.8" r="0.45"/>
<circle cx="253.3" cy="272.4" r="0.55"/>
<circle cx="234.4" cy="252.1" r="0.55"/>
<circle cx="227.4" cy="236.7" r="0.45"/>
<circle cx="196.3" cy="241.5" r="0.55"/>
<circle cx="237.0" cy="237.4" r="0.45"/>
<circle cx="186.4" cy="267.3" r="0.45"/>
<circle cx="210.3" cy="231.7" r="0.45"/>
<circle cx="245.1" cy="248.4" r="0.60"/>
<circle cx="227.6" cy="251.0" r="0.55"/>
<circle cx="185.4" cy="275.2" r="0.45"/>
<circle cx="199.0" cy="272.8" r="0.60"/>
<circle cx="235.1" cy="243.3" r="0.60"/>
<circle cx="232.7" cy="233.7" r="0.60"/>
<circle cx="234.1" cy="223.6" r="0.60"/>
<circle cx="187.5" cy="277.4" r="0.45"/>
<circle cx="188.8" cy="260.7" r="0.60"/>
<circle cx="240.5" cy="247.7" r="0.55"/>
<circle cx="245.8" cy="267.7" r="0.55"/>
<circle cx="194.6" cy="251.4" r="0.55"/>
<circle cx="243.8" cy="256.6" r="0.45"/>
<circle cx="248.8" cy="261.3" r="0.45"/>
<circle cx="205.5" cy="232.9" r="0.60"/>
<circle cx="227.9" cy="237.9" r="0.45"/>
<circle cx="192.7" cy="256.7" r="0.60"/>
<circle cx="238.7" cy="254.6" r="0.60"/>
<circle cx="203.4" cy="236.0" r="0.60"/>
<circle cx="182.0" cy="271.2" r="0.60"/>
<circle cx="205.0" cy="230.9" r="0.60"/>
<circle cx="200.8" cy="251.9" r="0.45"/>
<circle cx="225.4" cy="269.7" r="0.45"/>
<circle cx="228.1" cy="235.0" r="0.55"/>
<circle cx="203.5" cy="272.5" r="0.55"/>
<circle cx="194.6" cy="271.9" r="0.45"/>
<circle cx="190.1" cy="271.7" r="0.45"/>
<circle cx="200.6" cy="229.4" r="0.55"/>
<circle cx="230.2" cy="227.4" r="0.55"/>
<circle cx="229.4" cy="252.4" r="0.45"/>
<circle cx="227.1" cy="244.6" r="0.45"/>
<circle cx="233.5" cy="242.0" r="0.55"/>
<circle cx="197.0" cy="260.4" r="0.45"/>
<circle cx="190.6" cy="249.0" r="0.60"/>
<circle cx="242.4" cy="256.3" r="0.55"/>
<circle cx="204.3" cy="230.2" r="0.45"/>
<circle cx="202.8" cy="231.7" r="0.55"/></g>
  <g fill="#d8f8ff"><circle cx="168.2" cy="317.8" r="0.80"/>
<circle cx="178.1" cy="313.8" r="0.80"/>
<circle cx="244.6" cy="293.0" r="0.50"/>
<circle cx="234.0" cy="297.8" r="0.80"/>
<circle cx="174.7" cy="314.4" r="0.60"/>
<circle cx="233.9" cy="325.7" r="0.50"/>
<circle cx="252.0" cy="302.7" r="0.50"/>
<circle cx="237.8" cy="286.6" r="0.50"/>
<circle cx="183.2" cy="293.1" r="0.80"/>
<circle cx="199.8" cy="326.1" r="0.80"/>
<circle cx="197.7" cy="291.3" r="0.80"/>
<circle cx="227.4" cy="286.8" r="0.80"/>
<circle cx="199.3" cy="288.8" r="0.60"/>
<circle cx="230.5" cy="303.9" r="0.60"/>
<circle cx="208.5" cy="301.9" r="0.60"/>
<circle cx="174.0" cy="290.0" r="0.80"/>
<circle cx="257.9" cy="325.8" r="0.50"/>
<circle cx="244.3" cy="316.9" r="0.60"/>
<circle cx="256.8" cy="307.5" r="0.50"/></g>
  <!-- glass walls -->
  <g fill="none" stroke-linejoin="round" stroke-linecap="round">
    <path d="M158.5 179.4 L193.5 198.3 Q200.2 202 200.2 212 L158.0 316.2 Q157.3 318.3 158.4 320.2 L172.6 343.1 L217.3 343.1" stroke="#4a4a4a" stroke-width="3.7"/>
    <path d="M276.1 179.4 L241.1 198.3 Q234.4 202 234.4 212 L276.6 316.2 Q277.3 318.3 276.2 320.2 L262 343.1 L217.3 343.1" stroke="#4a4a4a" stroke-width="3.7"/>
    <path d="M158.5 179.4 L193.5 198.3 Q200.2 202 200.2 212 L158.0 316.2 Q157.3 318.3 158.4 320.2 L172.6 343.1 L217.3 343.1" stroke="#fff" stroke-width="2"/>
    <path d="M276.1 179.4 L241.1 198.3 Q234.4 202 234.4 212 L276.6 316.2 Q277.3 318.3 276.2 320.2 L262 343.1 L217.3 343.1" stroke="#fff" stroke-width="2"/>
  </g>
  <line x1="158.5" y1="178.7" x2="276.1" y2="178.7" stroke="#555" stroke-width="0.8"/>
  <line x1="196" y1="197" x2="239" y2="197" stroke="#ccc" stroke-width="0.5"/>
  <!-- stopper -->
  <path d="M194.9 176.8 L239.7 176.8 L232.7 211.6 L201.9 211.6 Z" fill="#7b7b7b" stroke="#444" stroke-width="0.8"/>
  <clipPath id="stopclip"><path d="M194.9 176.8 L239.7 176.8 L232.7 211.6 L201.9 211.6 Z"/></clipPath>
  <g stroke="#8c8c8c" stroke-width="0.45" clip-path="url(#stopclip)"><line x1="154" y1="216" x2="198" y2="172"/><line x1="163" y1="216" x2="207" y2="172"/><line x1="172" y1="216" x2="216" y2="172"/><line x1="181" y1="216" x2="225" y2="172"/><line x1="190" y1="216" x2="234" y2="172"/><line x1="199" y1="216" x2="243" y2="172"/><line x1="208" y1="216" x2="252" y2="172"/><line x1="217" y1="216" x2="261" y2="172"/><line x1="226" y1="216" x2="270" y2="172"/><line x1="235" y1="216" x2="279" y2="172"/></g>
  <!-- loops -->
  <g fill="none" stroke="#555" stroke-width="0.7">
    <path d="M200.6 238 L202.6 222 Q204 213.5 207.4 213.5 Q211.6 213.5 211.7 225 L211.7 307"/>
    <path d="M234 238 L232 222 Q230.6 213.5 227.2 213.5 Q223 213.5 222.9 225 L222.9 307"/>
    <path d="M194.6 263.5 L194.6 322 Q194.9 338 211 338.5"/>
    <path d="M241.2 263.5 L241.2 322 Q240.9 338 223.6 338.5"/>
  </g>
  <path d="M198.6 235 L200.5 241.5 L202.4 235.3 Z" fill="#555"/>
  <path d="M232 235.3 L233.9 241.5 L235.9 235 Z" fill="#555"/>
  <!-- balls -->
  <defs>
    <radialGradient id="ball" cx="50%" cy="28%" r="72%">
      <stop offset="0" stop-color="#fff2ee"/>
      <stop offset="0.45" stop-color="#f9b09c"/>
      <stop offset="1" stop-color="#ee6446"/>
    </radialGradient>
  </defs>
  <g fill="url(#ball)" stroke="#d9705a" stroke-width="0.4">
    <circle cx="172.5" cy="336.6" r="4.6"/>
    <circle cx="177.5" cy="336.6" r="4.6"/>
    <circle cx="183.0" cy="336.6" r="4.6"/>
    <circle cx="188.0" cy="336.6" r="4.6"/>
    <circle cx="193.0" cy="336.6" r="4.6"/>
    <circle cx="198.0" cy="336.6" r="4.6"/>
    <circle cx="203.5" cy="336.6" r="4.6"/>
    <circle cx="209.0" cy="336.6" r="4.6"/>
    <circle cx="262.1" cy="336.6" r="4.6"/>
    <circle cx="257.1" cy="336.6" r="4.6"/>
    <circle cx="251.6" cy="336.6" r="4.6"/>
    <circle cx="246.6" cy="336.6" r="4.6"/>
    <circle cx="241.6" cy="336.6" r="4.6"/>
    <circle cx="236.6" cy="336.6" r="4.6"/>
    <circle cx="231.1" cy="336.6" r="4.6"/>
    <circle cx="225.6" cy="336.6" r="4.6"/>
  </g>
  <!-- induction lines -->
  <g stroke="#4f28bd" stroke-width="1.5" stroke-linecap="round">
    <line x1="174.0" y1="337.5" x2="175.3" y2="349"/>
    <line x1="260.6" y1="337.5" x2="259.3" y2="349"/>
    <line x1="183.1" y1="337.5" x2="184.4" y2="349"/>
    <line x1="251.5" y1="337.5" x2="250.2" y2="349"/>
    <line x1="192.6" y1="337.5" x2="193.9" y2="349"/>
    <line x1="242.0" y1="337.5" x2="240.7" y2="349"/>
    <line x1="200.8" y1="337.5" x2="202.1" y2="349"/>
    <line x1="233.8" y1="337.5" x2="232.5" y2="349"/>
    <line x1="209.8" y1="337.5" x2="211.1" y2="349"/>
    <line x1="224.8" y1="337.5" x2="223.5" y2="349"/>
  </g>
  <rect x="162" y="349.2" width="112.7" height="2" fill="#8a6ae0"/>
</g>
<!-- ================= BASE ================= -->
<g id="base">
  <!-- ground line -->
  <line x1="113.5" y1="423" x2="491.5" y2="423" stroke="#7a7a7a" stroke-width="0.8"/>
  <!-- feet -->
  <path d="M166 417.5 L180 417.5 L177 423 L169.5 423 Z" fill="#fff" stroke="#999" stroke-width="0.7"/>
  <path d="M448.8 417.5 L462.5 417.5 L459.5 423 L451.8 423 Z" fill="#fff" stroke="#999" stroke-width="0.7"/>
  <!-- inner light lines -->
  <g stroke="#999" stroke-width="0.75" fill="none">
    <line x1="152" y1="349" x2="152" y2="409.5"/>
    <line x1="160.6" y1="349" x2="160.6" y2="409.5"/>
    <line x1="179.6" y1="349" x2="179.6" y2="409.5"/>
    <line x1="185.4" y1="349" x2="185.4" y2="409.5"/>
    <line x1="251.3" y1="349" x2="251.3" y2="409.5"/>
    <line x1="256.6" y1="349" x2="256.6" y2="409.5"/>
    <!-- drawer -->
    <line x1="338.8" y1="349" x2="338.8" y2="409.5"/>
    <line x1="346.2" y1="353.7" x2="346.2" y2="409.5"/>
    <line x1="471.2" y1="349" x2="471.2" y2="409.5"/>
    <line x1="338.8" y1="350.3" x2="478.5" y2="350.3"/>
    <line x1="338.8" y1="353.7" x2="478.5" y2="353.7"/>
    <path d="M349.5 406 L349.5 361.5 Q349.5 356.3 354.7 356.3 L462.3 356.3 Q467.5 356.3 467.5 361.5 L467.5 406"/>
    <path d="M352.3 406 L352.3 361 Q352.3 358.8 355 358.8"/>
    <path d="M464.7 406 L464.7 361 Q464.7 358.8 462 358.8"/>
    <line x1="346.2" y1="403.8" x2="471.2" y2="403.8"/>
    <line x1="346.2" y1="406" x2="471.2" y2="406"/>
  </g>
  <!-- hatch -->
  <g stroke="#e2e2e2" stroke-width="0.5">
    <line x1="152" y1="372" x2="160" y2="362"/>
    <line x1="152" y1="392" x2="160" y2="382"/>
    <line x1="471.5" y1="372" x2="478" y2="364"/>
    <line x1="471.5" y1="392" x2="478" y2="384"/>
  </g>
  <!-- black frame -->
  <rect x="142" y="337" width="9" height="80.5" fill="#000"/>
  <rect x="142" y="344.8" width="344.5" height="4.3" fill="#000"/>
  <rect x="478.5" y="337" width="8.2" height="80.5" fill="#000"/>
  <rect x="142" y="409.5" width="344.7" height="8" fill="#000"/>
</g>

<!-- ================= TUBE ================= -->
<g id="tube" fill="none" stroke-linejoin="round">
  <path d="M217.1 341 L217.1 131 Q217.1 122 226 118.7 L310 87.4 Q318.86 84.1 328 87.34 L391 109.7 Q399.9 112.87 399.9 121 L399.9 136" stroke="#1f4f62" stroke-width="7.8"/>
  <path d="M217.1 341 L217.1 131 Q217.1 122 226 118.7 L310 87.4 Q318.86 84.1 328 87.34 L391 109.7 Q399.9 112.87 399.9 121 L399.9 136" stroke="#52cbee" stroke-width="6.1"/>
  <path d="M399.9 124 L399.9 136" stroke="#6fd2f0" stroke-width="7.2"/>
  <path d="M399.9 136 L399.9 143.5" stroke="#8adcf3" stroke-width="6" stroke-dasharray="1.6 1.2"/>
</g>
<line x1="226.6" y1="115.2" x2="228.6" y2="121.3" stroke="#1f4f62" stroke-width="0.5"/>
<g stroke="#10232c" stroke-width="0.8" fill="#10232c">
  <line x1="217.1" y1="197.6" x2="217.1" y2="163" stroke-width="0.6"/>
  <path d="M215.6 165.5 L217.1 159.8 L218.6 165.5 Z"/>
  <line x1="217.1" y1="339" x2="217.1" y2="321" stroke="#2a6f8a" stroke-width="0.6"/>
  <path d="M216.1 322 L217.1 318.8 L218.1 322 Z" stroke="none" fill="#2a6f8a"/>
  <line x1="244.8" y1="111.8" x2="277" y2="99.8"/>
  <path d="M276.2 97.6 L281.6 98.2 L277.5 101.7 Z"/>
  <line x1="341" y1="91.8" x2="371.5" y2="102.6"/>
  <path d="M372 100.4 L376.2 104.1 L370.7 104 Z"/>
</g>
<!-- ================= TEXT ================= -->
<g id="labels">
  <circle cx="287.2" cy="51.6" r="5.2" fill="#b9b9b9"/><text x="287.2" y="54.0" text-anchor="middle" class="n">4</text>
  <text class="t" text-anchor="middle"><tspan x="319.5" y="56.8">The water is</tspan><tspan x="319.5" y="64.9">transported into the</tspan><tspan x="319.5" y="72.6">filter.</tspan></text>

  <circle cx="91" cy="139.4" r="5.2" fill="#b9b9b9"/><text x="91" y="141.8" text-anchor="middle" class="n">3</text>
  <text class="t" text-anchor="middle"><tspan x="126.6" y="146.4">The steam pressure</tspan><tspan x="126.4" y="154.2">produced by the boiling</tspan><tspan x="126.5" y="162">water forces the water up</tspan><tspan x="126.5" y="169.8">and out of the tube</tspan></text>

  <circle cx="73.8" cy="262.5" r="5.2" fill="#b9b9b9"/><text x="73.8" y="264.9" text-anchor="middle" class="n">2</text>
  <text class="t" text-anchor="middle"><tspan x="111.8" y="269.5">The Ball bearings heat</tspan><tspan x="111.3" y="277.3">up and boil the water</tspan></text>

  <circle cx="504.4" cy="123.8" r="5.2" fill="#b9b9b9"/><text x="504.4" y="126.2" text-anchor="middle" class="n">5</text>
  <text class="t" text-anchor="middle"><tspan x="547" y="132.7">The boiling water diffuses</tspan><tspan x="546.9" y="140.5">in the coffee, and exits at</tspan><tspan x="546.8" y="148.3">the bottom</tspan></text>

  <circle cx="541.7" cy="273.8" r="5.2" fill="#b9b9b9"/><text x="541.7" y="276.2" text-anchor="middle" class="n">6</text>
  <text class="t" x="546.9" y="285.8" textLength="60.5" lengthAdjust="spacingAndGlyphs">Your Coffee is Ready</text>

  <circle cx="182.4" cy="368.4" r="5.2" fill="#b9b9b9"/><text x="182.4" y="370.8" text-anchor="middle" class="n">1</text>
  <text class="t" text-anchor="middle"><tspan x="218.4" y="374">Induction Element</tspan><tspan x="218.3" y="381.4">Switches On</tspan></text>
</g>

<!-- ================= LOGO ================= -->
<g id="logo">
  <text x="548.2" y="405" font-family="Liberation Sans,sans-serif" font-size="7" fill="#cfcfcf" textLength="8.8" lengthAdjust="spacingAndGlyphs">THE</text>
  <path d="M555.2 395.6 L571.8 395.6 Q573.5 395.8 572.6 397 L564 404.3 Q563.2 405.3 563.6 406.4 L573.2 431.5 Q573.8 433 573.6 435 Q573.4 436.8 572.5 438 L568 442.6 Q567.6 443 567 443 L555.2 443" fill="none" stroke="#1e1e1e" stroke-width="1.4" stroke-linejoin="round"/>
  <line x1="573.5" y1="435" x2="625.6" y2="435" stroke="#444" stroke-width="0.9"/>
  <text x="572.8" y="427.3" font-family="Liberation Serif,serif" font-style="italic" font-weight="bold" font-size="15.2" fill="#1e1e1e" textLength="53" lengthAdjust="spacingAndGlyphs">arisieur</text>
  <circle cx="556.5" cy="439.2" r="1.1" fill="#dfe3e8"/>
  <circle cx="561.7" cy="439.2" r="1.1" fill="#dfe3e8"/>
  <circle cx="566.9" cy="439.2" r="1.1" fill="#dfe3e8"/>
</g>
</svg>
</body></html>
